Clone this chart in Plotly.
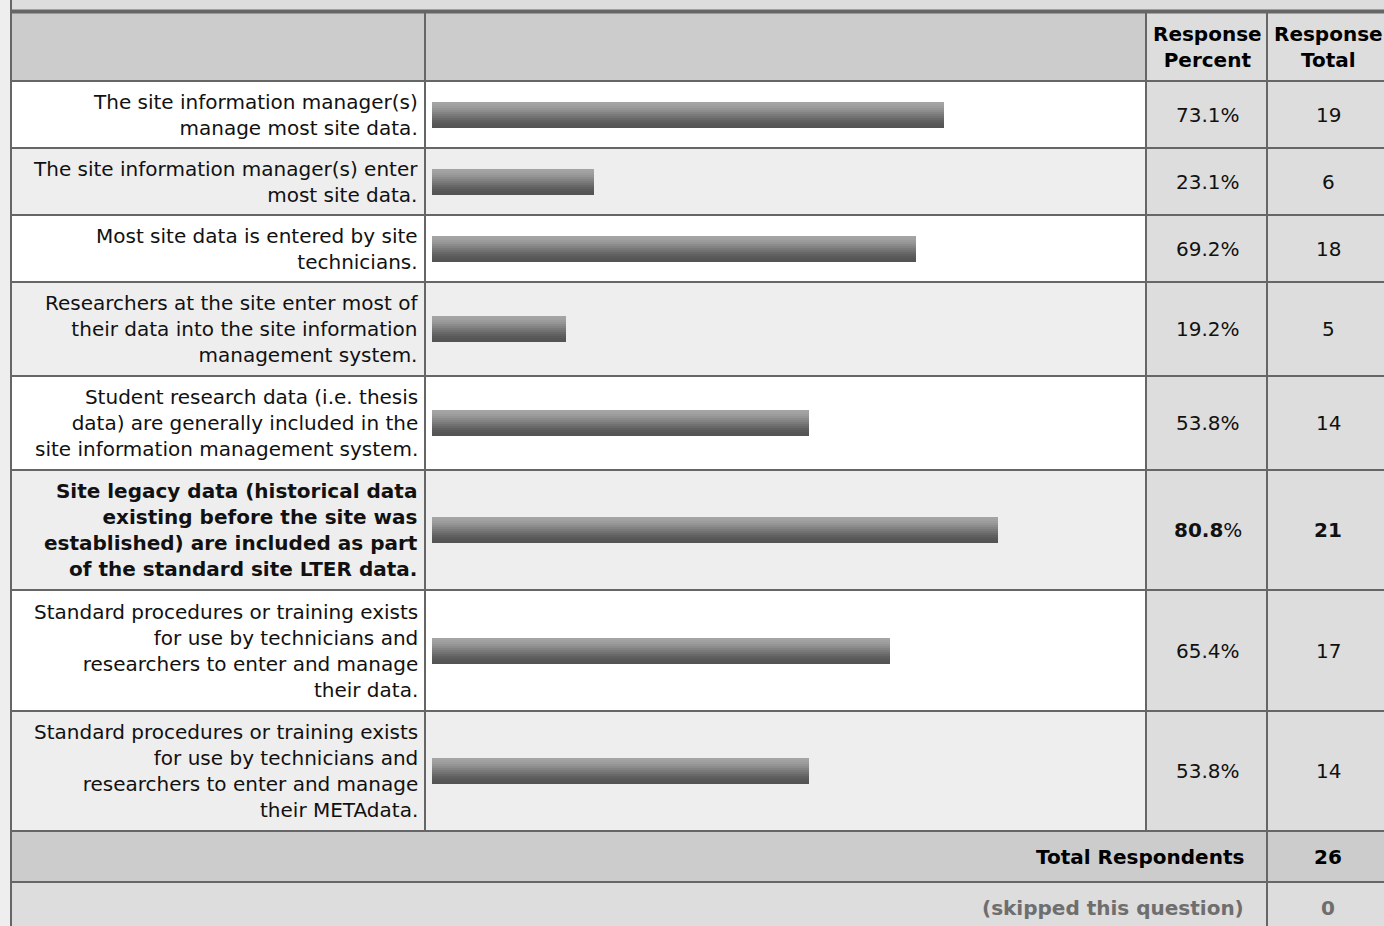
#!/usr/bin/env python3
"""
Survey result table: who manages site data, drawn as a Plotly figure.
"""

import plotly.graph_objects as go

# Survey answers (rows of the table)
answer_labels = [
    "The site information manager(s)<br>manage most site data.",
    "The site information manager(s) enter<br>most site data.",
    "Most site data is entered by site<br>technicians.",
    "Researchers at the site enter most of<br>their data into the site information<br>management system.",
    "Student research data (i.e. thesis<br>data) are generally included in the<br>site information management system.",
    "Site legacy data (historical data<br>existing before the site was<br>established) are included as part<br>of the standard site LTER data.",
    "Standard procedures or training exists<br>for use by technicians and<br>researchers to enter and manage<br>their data.",
    "Standard procedures or training exists<br>for use by technicians and<br>researchers to enter and manage<br>their METAdata.",
]
response_percent = [73.1, 23.1, 69.2, 19.2, 53.8, 80.8, 65.4, 53.8]
response_total = [19, 6, 18, 5, 14, 21, 17, 14]
highlight_row = 5  # top answer is shown in bold

header_labels = ["Response<br>Percent", "Response<br>Total"]
total_respondents = 26
skipped_question = 0

# Page layout (pixels)
W, H = 1384, 926
FONT = "Verdana, DejaVu Sans, sans-serif"
FS = 20
LINE = "#666666"

# horizontal row borders, top to bottom
row_edges = [81, 148, 215, 282, 376, 470, 590, 711, 831, 882, 940]
col_edges = [11, 425, 1146, 1267, 1400]
bar_left, bar_right = 432, 1132
bar_height = 26

# top-to-bottom shading of the bars (light -> dark)
bar_shades = [
    "#a4a4a4", "#a1a1a1", "#9c9c9c", "#959595", "#8c8c8c", "#838383", "#7a7a7a",
    "#717171", "#686868", "#606060", "#5a5a5a", "#565656", "#545454",
]


def rect(x0, y0, x1, y1, color):
    return dict(type="rect", xref="x", yref="y", x0=x0, y0=y0, x1=x1, y1=y1,
                fillcolor=color, line_width=0, layer="below")


def hline(x0, x1, y, width=2):
    return dict(type="line", xref="x", yref="y", x0=x0, x1=x1, y0=y, y1=y,
                line=dict(color=LINE, width=width), layer="above")


def vline(x, y0, y1, width=2):
    return dict(type="line", xref="x", yref="y", x0=x, x1=x, y0=y0, y1=y1,
                line=dict(color=LINE, width=width), layer="above")


def text(x, y, s, anchor="center", color="#111111"):
    return dict(x=x, y=y, xref="x", yref="y", text=s, showarrow=False,
                xanchor=anchor, yanchor="middle", align=anchor if anchor != "center" else "center",
                font=dict(family=FONT, size=FS, color=color))


def build_table():
    shapes = []
    annotations = []

    # top band and header
    shapes.append(rect(col_edges[0], 0, W, 11, "#dddddd"))
    shapes.append(rect(col_edges[0], 12, col_edges[2], row_edges[0], "#cccccc"))
    shapes.append(rect(col_edges[2], 12, W, row_edges[0], "#dddddd"))

    n = len(answer_labels)
    for i in range(n):
        y0, y1 = row_edges[i], row_edges[i + 1]
        bg = "#ffffff" if i % 2 == 0 else "#eeeeee"
        shapes.append(rect(col_edges[0], y0, col_edges[2], y1, bg))
        shapes.append(rect(col_edges[2], y0, W, y1, "#dddddd"))

    # footer rows
    shapes.append(rect(col_edges[0], row_edges[n], W, row_edges[n + 1], "#cccccc"))
    shapes.append(rect(col_edges[0], row_edges[n + 1], W, H, "#dddddd"))

    # borders
    shapes.append(hline(col_edges[0], W, 11.5, width=4))
    for y in row_edges[:n + 2]:
        shapes.append(hline(col_edges[0], W, y))
    shapes.append(vline(col_edges[0], 0, H))
    for x in col_edges[1:3]:
        shapes.append(vline(x, 12, row_edges[n]))
    shapes.append(vline(col_edges[3], 12, H))

    # header text
    pct_x = (col_edges[2] + col_edges[3]) / 2 + 1
    tot_x = 1328
    head_y = (12 + row_edges[0]) / 2
    annotations.append(text(pct_x, head_y, f"<b>{header_labels[0]}</b>", color="#000000"))
    annotations.append(text(tot_x, head_y, f"<b>{header_labels[1]}</b>", color="#000000"))

    # body text
    for i in range(n):
        yc = (row_edges[i] + row_edges[i + 1]) / 2
        label = answer_labels[i]
        pct = f"{response_percent[i]:.1f}%"
        tot = str(response_total[i])
        if i == highlight_row:
            label = f"<b>{label}</b>"
            pct = f"<b>{response_percent[i]:.1f}</b>%"
            tot = f"<b>{tot}</b>"
        annotations.append(text(col_edges[1] - 5, yc, label, anchor="right"))
        annotations.append(text(pct_x, yc, pct))
        annotations.append(text(tot_x, yc, tot))

    # footer text
    yc = (row_edges[n] + row_edges[n + 1]) / 2
    annotations.append(text(1246, yc, "<b>Total Respondents</b>", anchor="right", color="#000000"))
    annotations.append(text(tot_x, yc, f"<b>{total_respondents}</b>", color="#000000"))
    yc = (row_edges[n + 1] + 934) / 2
    annotations.append(text(1246, yc, "<b>(skipped this question)</b>", anchor="right", color="#6e6e6e"))
    annotations.append(text(tot_x, yc, f"<b>{skipped_question}</b>", color="#6e6e6e"))

    return shapes, annotations


def create_figure():
    fig = go.Figure()

    n = len(answer_labels)
    centers = [(row_edges[i] + row_edges[i + 1]) / 2 for i in range(n)]
    slice_h = bar_height / len(bar_shades)

    # bars are drawn as thin horizontal slices to get the vertical shading
    for k, shade in enumerate(bar_shades):
        fig.add_trace(
            go.Bar(
                x=response_percent,
                y=centers,
                orientation="h",
                xaxis="x2",
                yaxis="y",
                width=slice_h + 0.3,
                offset=-bar_height / 2 + k * slice_h,
                marker=dict(color=shade, line_width=0),
                showlegend=False,
                hoverinfo="skip",
            )
        )

    shapes, annotations = build_table()

    fig.update_layout(
        width=W,
        height=H,
        margin=dict(l=0, r=0, t=0, b=0),
        paper_bgcolor="#eeeeee",
        plot_bgcolor="rgba(0,0,0,0)",
        barmode="overlay",
        bargap=0,
        xaxis=dict(range=[0, W], domain=[0, 1], visible=False, fixedrange=True),
        yaxis=dict(range=[H, 0], domain=[0, 1], visible=False, fixedrange=True),
        xaxis2=dict(range=[0, 100], domain=[bar_left / W, bar_right / W],
                    anchor="y", visible=False, fixedrange=True),
        shapes=shapes,
        annotations=annotations,
        showlegend=False,
    )
    return fig


def main():
    fig = create_figure()
    # drop the browser's default page margin so the table starts at the corner
    fig.write_html(
        "out.html",
        config={"displayModeBar": False},
        post_script="document.body.style.margin='0';document.body.style.overflow='hidden';",
    )


if __name__ == "__main__":
    main()
